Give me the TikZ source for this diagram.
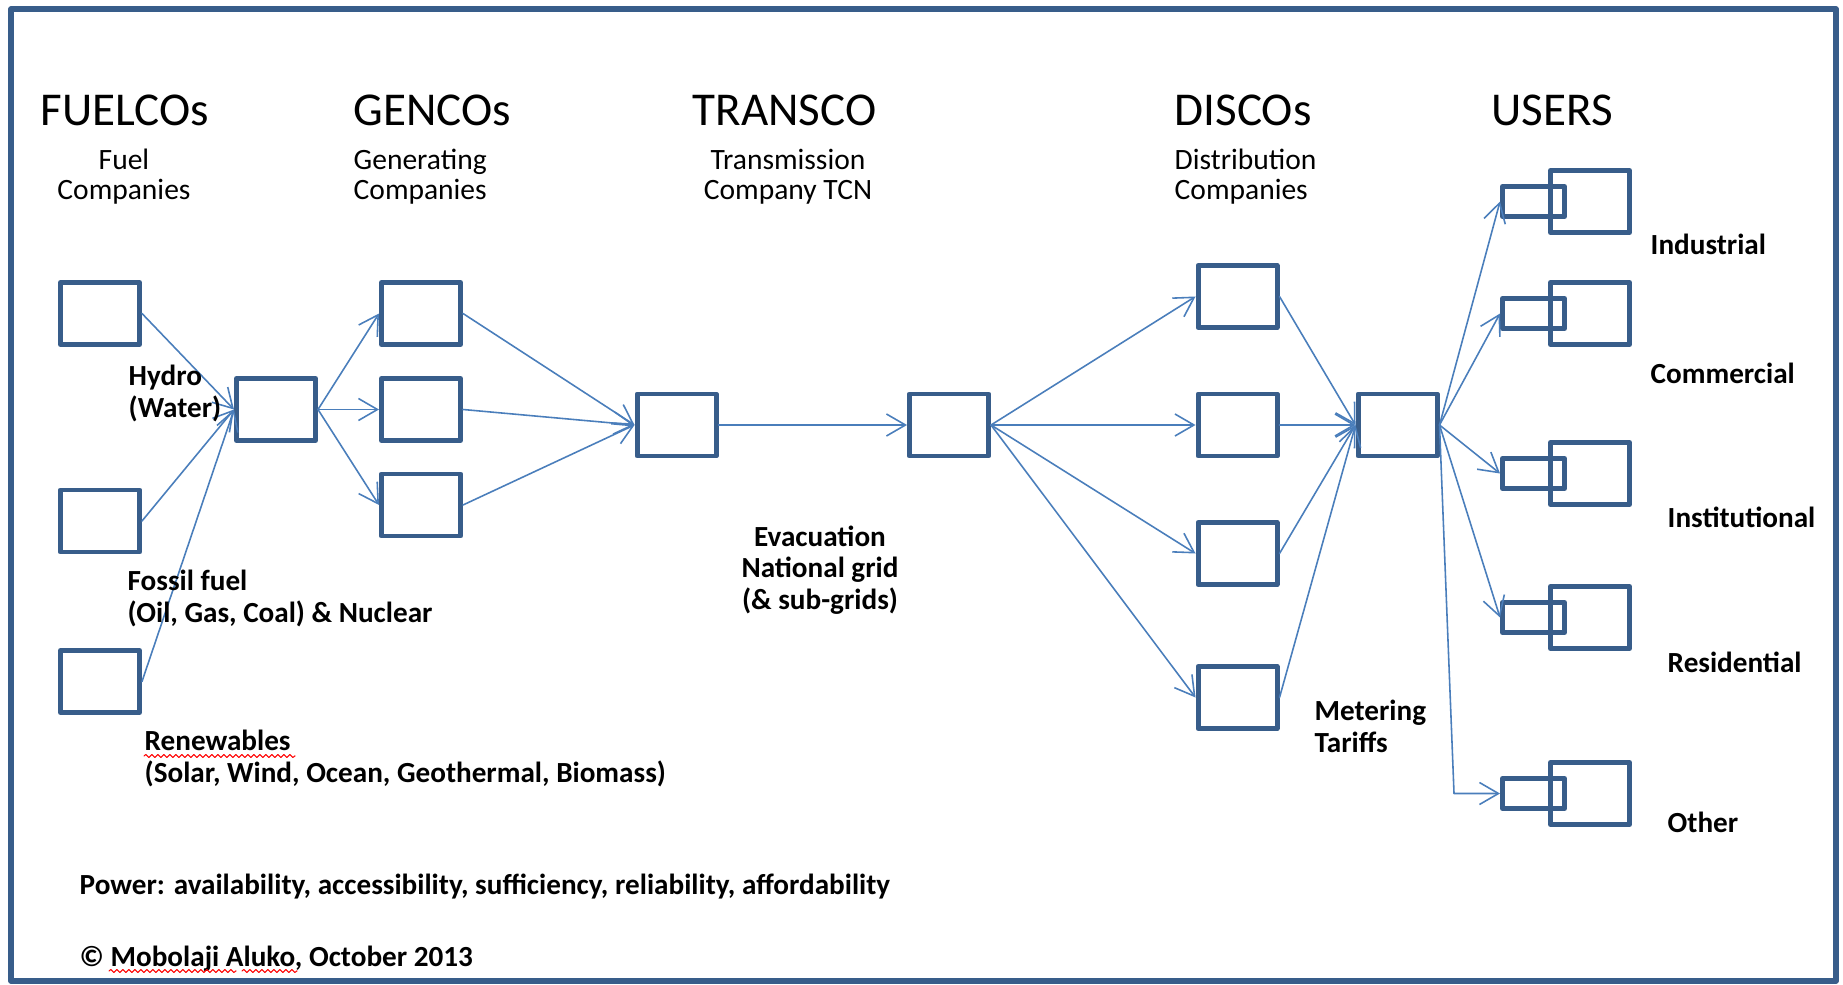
\documentclass[tikz,border=0pt]{standalone}
\usepackage{fontspec}
\setmainfont{Carlito}
\usepackage{tikz}
\usetikzlibrary{arrows.meta}
\usetikzlibrary{positioning}
\usetikzlibrary{decorations.pathmorphing}
\definecolor{boxblue}{RGB}{56,93,138}
\definecolor{linkblue}{RGB}{74,126,187}

\begin{document}
\begin{tikzpicture}[line cap=round,line join=round,>={Straight Barb[length=1.9mm,width=2.2mm]},x=1cm,y=1cm,
  unit/.style={draw=boxblue,line width=1.42pt,minimum width=0.79cm,minimum height=0.62cm,inner sep=0pt},
  meter/.style={draw=boxblue,line width=1.42pt,minimum width=0.62cm,minimum height=0.30cm,inner sep=0pt},
  link/.style={->,draw=linkblue,line width=0.45pt},
  title/.style={anchor=base west,inner sep=0pt,font=\fontsize{13.4}{16}\selectfont},
  sub/.style={inner sep=0pt,font=\fontsize{8.4}{8.8}\selectfont},
  label/.style={anchor=base west,inner sep=0pt,align=left,font=\fontsize{8.3}{8.9}\selectfont\bfseries},
  squiggle/.style={draw=red,line width=0.3pt,decorate,decoration={snake,amplitude=0.15mm,segment length=0.6mm}}]
\useasboundingbox (0,0) rectangle (18.43,9.84);
\draw [draw=boxblue,line width=1.5pt] (0.11,0.03) rectangle (18.36,9.75);
% headings (multi-line texts sit on their last line)
\node (fuelco) at (0.40,8.58) [title] {FUELCOs};
\node (genco) at (3.53,8.58) [title] {GENCOs};
\node (transco) at (6.92,8.58) [title] {TRANSCO};
\node (disco) at (11.74,8.58) [title] {DISCOs};
\node (users) at (14.91,8.58) [title] {USERS};
\node (fuelsub) at (1.24,7.84) [sub,anchor=base,align=center] {Fuel\\Companies};
\node (gensub) at (3.53,7.84) [sub,anchor=base west,align=left] {Generating\\Companies};
\node (transsub) at (7.88,7.84) [sub,anchor=base,align=center] {Transmission\\Company TCN};
\node (discosub) at (11.74,7.84) [sub,anchor=base west,align=left] {Distribution\\Companies};
% boxes
\node (fuel1) at (1.00,6.705) [unit] {};
\node (fuel2) at (1.00,4.63) [unit] {};
\node (fuel3) at (1.00,3.025) [unit] {};
\node (fhub) at (2.76,5.745) [unit] {};
\node (gen1) at (4.21,6.705) [unit] {};
\node (gen2) at (4.21,5.745) [unit] {};
\node (gen3) at (4.21,4.79) [unit] {};
\node (trans) at (6.765,5.59) [unit] {};
\node (grid) at (9.49,5.59) [unit] {};
\node (disco1) at (12.375,6.875) [unit] {};
\node (disco2) at (12.375,5.59) [unit] {};
\node (disco3) at (12.375,4.305) [unit] {};
\node (disco4) at (12.375,2.865) [unit] {};
\node (dhub) at (13.975,5.59) [unit] {};
\node (user1) at (15.90,7.825) [unit] {};
\node (user2) at (15.90,6.705) [unit] {};
\node (user3) at (15.90,5.105) [unit] {};
\node (user4) at (15.90,3.665) [unit] {};
\node (user5) at (15.90,1.905) [unit] {};
\node (usm1) at (15.335,7.825) [meter] {};
\node (usm2) at (15.335,6.705) [meter] {};
\node (usm3) at (15.335,5.105) [meter] {};
\node (usm4) at (15.335,3.665) [meter] {};
\node (usm5) at (15.335,1.905) [meter] {};
\coordinate (bend) at (14.54,1.905);
% connectors
\draw [link] (fuel1.east) -- (fhub.west);
\draw [link] (fuel2.east) -- (fhub.west);
\draw [link] (fuel3.east) -- (fhub.west);
\draw [link] (fhub.east) -- (gen1.west);
\draw [link] (fhub.east) -- (gen2.west);
\draw [link] (fhub.east) -- (gen3.west);
\draw [link] (gen1.east) -- (trans.west);
\draw [link] (gen2.east) -- (trans.west);
\draw [link] (gen3.east) -- (trans.west);
\draw [link] (trans.east) -- (grid.west);
\draw [link] (grid.east) -- (disco1.west);
\draw [link] (grid.east) -- (disco2.west);
\draw [link] (grid.east) -- (disco3.west);
\draw [link] (grid.east) -- (disco4.west);
\draw [link] (disco1.east) -- (dhub.west);
\draw [link] (disco2.east) -- (dhub.west);
\draw [link] (disco3.east) -- (dhub.west);
\draw [link] (disco4.east) -- (dhub.west);
\draw [link] (dhub.east) -- (usm1.west);
\draw [link] (dhub.east) -- (usm2.west);
\draw [link] (dhub.east) -- (usm3.west);
\draw [link] (dhub.east) -- (usm4.west);
\draw [link] (dhub.east) -- (bend) -- (usm5.west);
% labels
\node (hydro) at (1.28,5.67) [label] {Hydro\\(Water)};
\node (fossil) at (1.27,3.62) [label] {Fossil fuel\\(Oil, Gas, Coal) \& Nuclear};
\node (renew) at (1.44,2.02) [label] {Renewables\\(Solar, Wind, Ocean, Geothermal, Biomass)};
\node (evac) at (8.20,3.75) [label,anchor=base,align=center] {Evacuation\\National grid\\(\& sub-grids)};
\node (metering) at (13.14,2.32) [label] {Metering\\Tariffs};
\node (industrial) at (16.50,7.29) [label] {Industrial};
\node (commercial) at (16.50,6.01) [label] {Commercial};
\node (institutional) at (16.67,4.57) [label] {Institutional};
\node (residential) at (16.67,3.12) [label] {Residential};
\node (other) at (16.67,1.52) [label] {Other};
\node (power) at (0.79,0.90) [label] {Power: availability, accessibility, sufficiency, reliability, affordability};
\node (copyright) at (0.79,0.18) [label] {© Mobolaji Aluko, October 2013};
\draw [squiggle] (1.44,2.28) -- (2.95,2.28);
\draw [squiggle] (1.09,0.13) -- (2.36,0.13);
\draw [squiggle] (2.42,0.13) -- (2.97,0.13);
\end{tikzpicture}
\end{document}
